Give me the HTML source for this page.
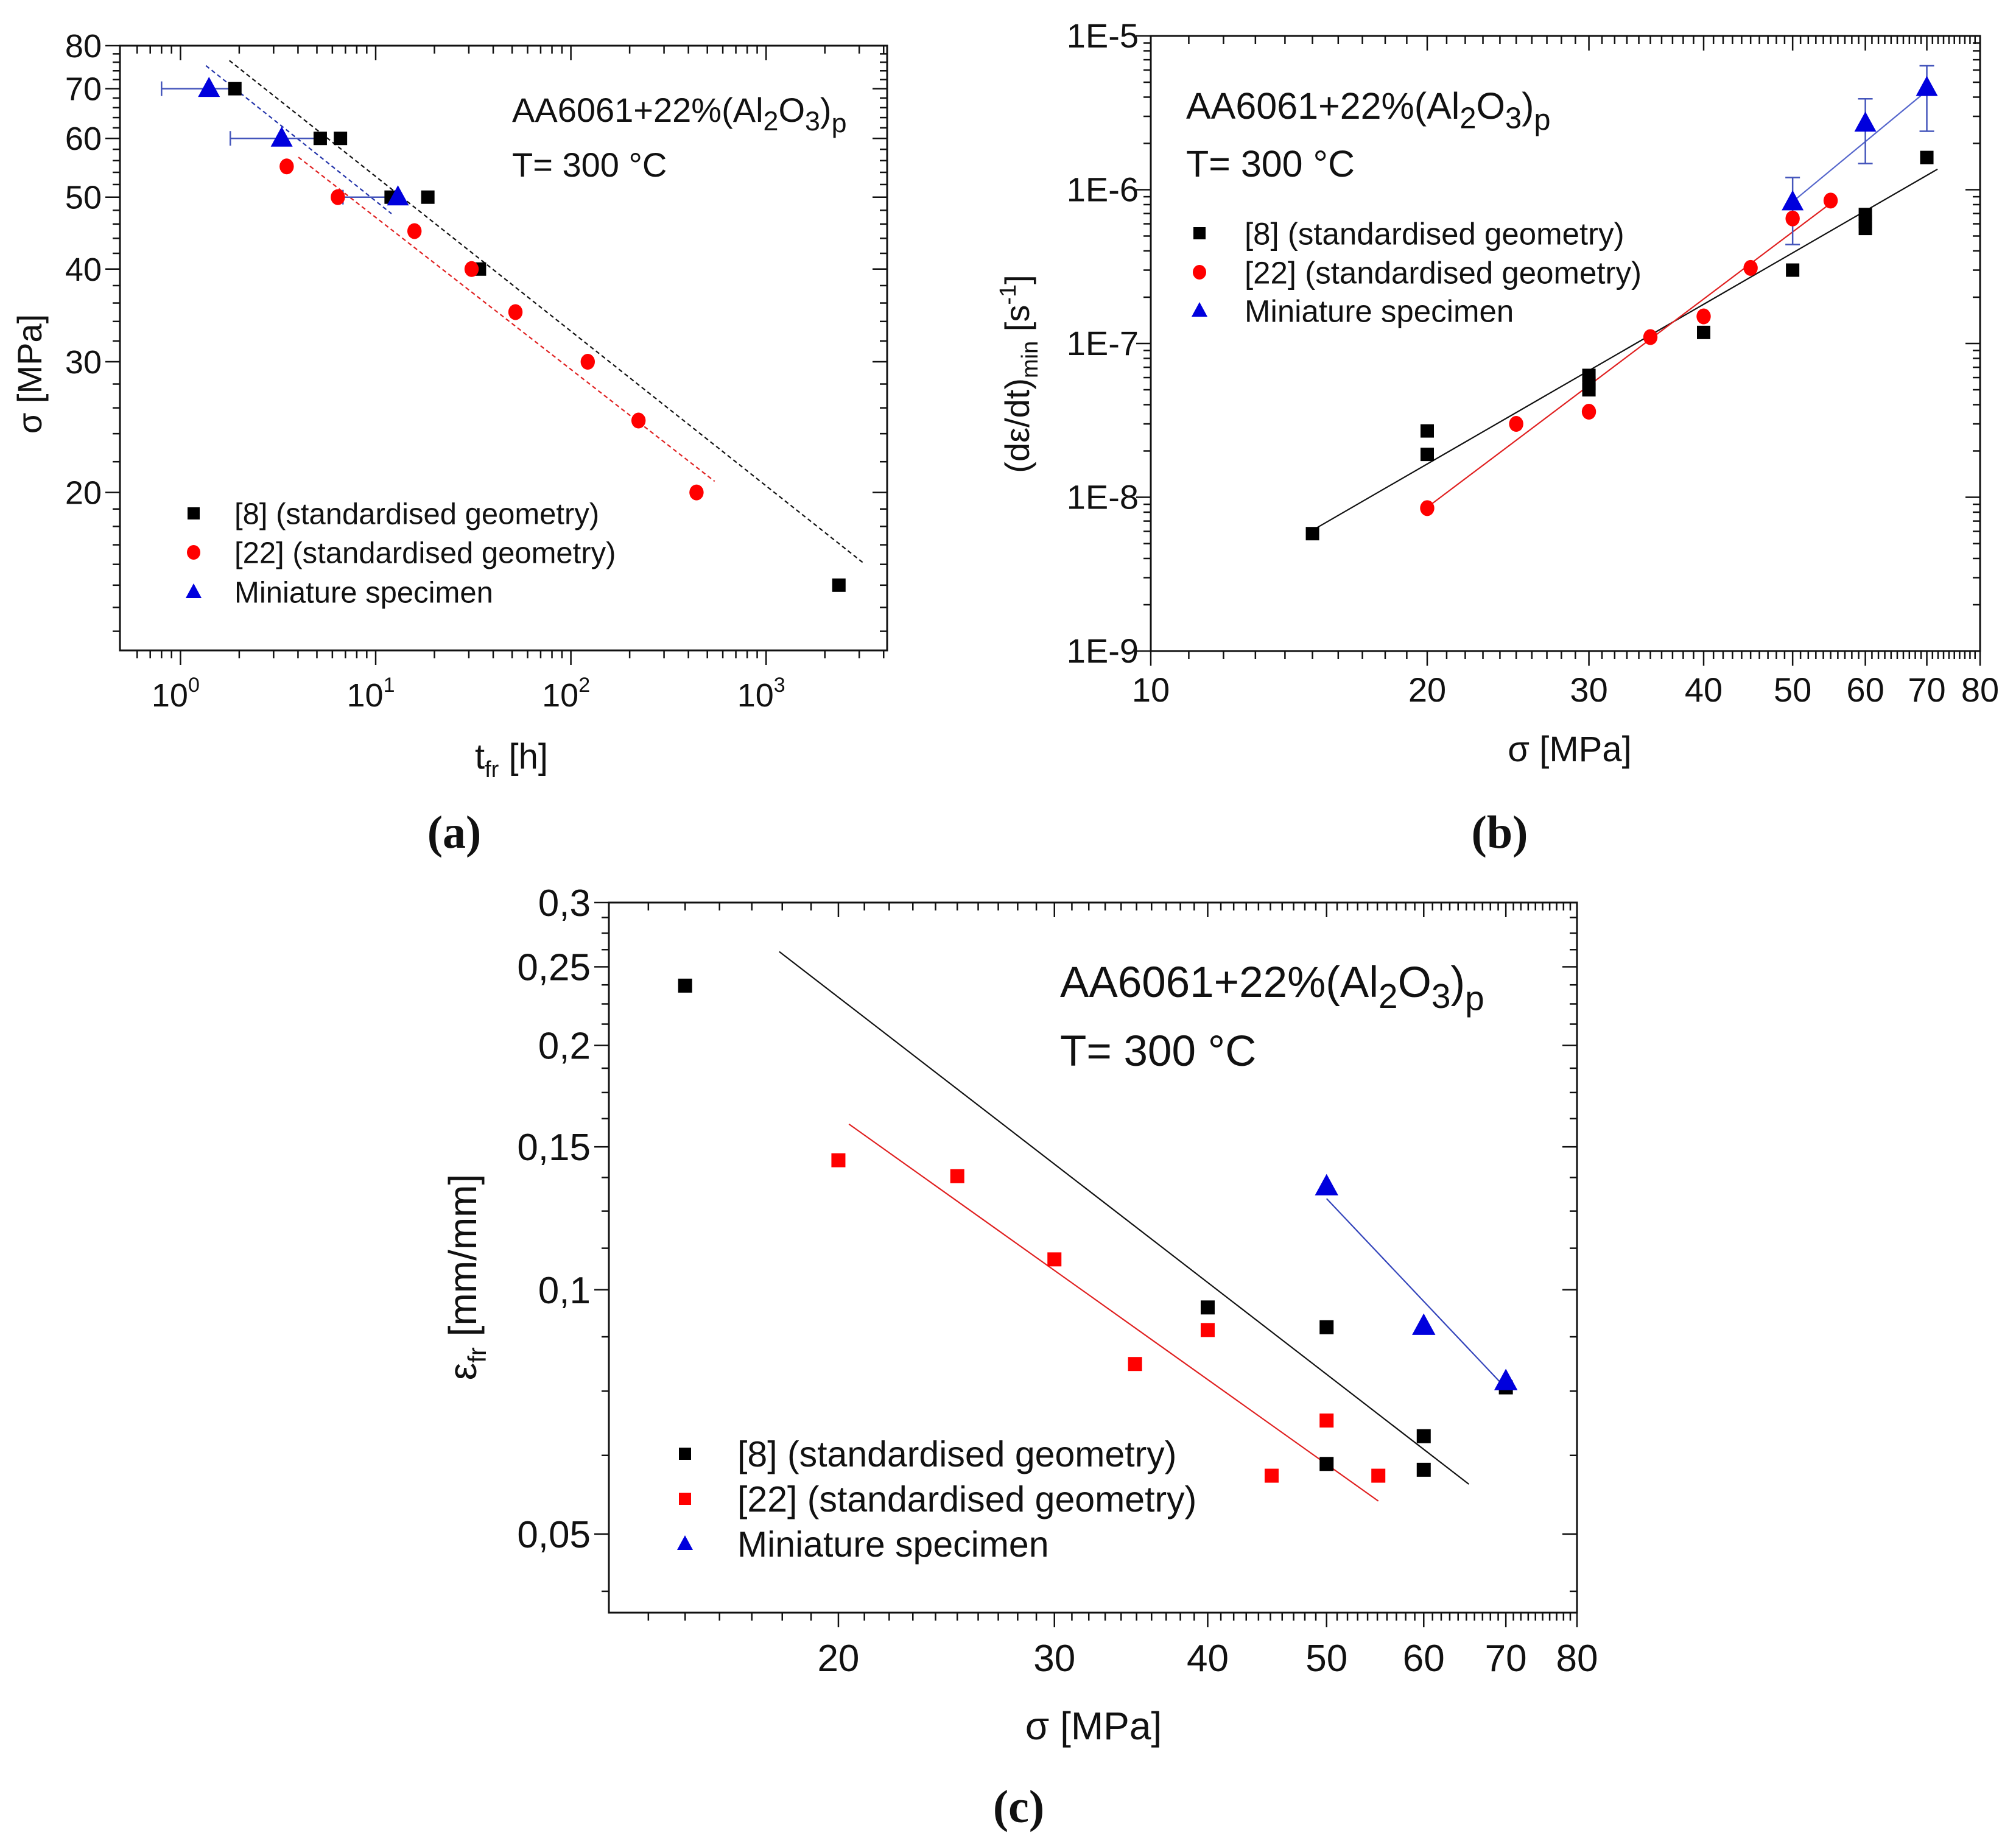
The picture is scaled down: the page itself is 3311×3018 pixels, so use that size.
<!DOCTYPE html>
<html><head><meta charset="utf-8"><style>
html,body{margin:0;padding:0;background:#fff}
svg{display:block}
text{font-family:"Liberation Sans",sans-serif;fill:#111}
.serif{font-family:"Liberation Serif",serif;font-weight:bold}
</style></head><body>
<svg id="fig" width="3311" height="3018" viewBox="0 0 3311 3018" xmlns="http://www.w3.org/2000/svg"></svg>
<script>
// ---------- Panel (a) data ----------
const aSq = [[1.9,70],[5.2,60],[6.6,60],[12,50],[18.5,50],[34,40],[2360,15.0]];
const aCirc = [[3.5,55],[6.4,50],[15.8,45],[31,40],[52,35],[122,30],[222,25],[440,20]];
const aTri = [[1.4,70],[3.3,60],[13,50]];
const aTriErr = [[0.8,1.9],[1.8,5.2],[6.8,13]];
const aFitBlack = [[1.78,76.4],[3120,16.1]];
const aFitBlue = [[1.35,75.2],[12.05,47.5]];
const aFitRed = [[4.02,56.6],[545,20.7]];
const aYTicks = [20,30,40,50,60,70,80];
const aYMinor = [12,13,14,15,16,17,18,19,22,24,26,28,32,34,36,38,42,44,46,48,52,54,56,58,62,64,66,68,72,74,76,78];
const aXExp = [0,1,2,3];
// ---------- Panel (b) data ----------
const bSq = [[15,5.8e-9],[20,2.7e-8],[20,1.9e-8],[30,6.2e-8],[30,5.5e-8],[30,5.0e-8],[40,1.18e-7],[50,3.0e-7],[60,6.9e-7],[60,6.2e-7],[60,5.6e-7],[70,1.62e-6]];
const bCirc = [[20,8.5e-9],[25,3.0e-8],[30,3.6e-8],[35,1.1e-7],[40,1.5e-7],[45,3.1e-7],[50,6.5e-7],[55,8.5e-7]];
const bTri = [[50,8.3e-7],[60,2.7e-6],[70,4.6e-6]];
const bTriErr = [[4.4e-7,1.2e-6],[1.48e-6,3.9e-6],[2.4e-6,6.4e-6]];
const bFitBlack = [[15,6.1e-9],[71.9,1.36e-6]];
const bFitRed = [[20,8.6e-9],[55.5,8.5e-7]];
const bFitBlue = [[50.3,8.6e-7],[70,4.4e-6]];
const bXTicks = [10,20,30,40,50,60,70,80];
const bYExp = [-9,-8,-7,-6,-5];
// ---------- Panel (c) data ----------
const cSq = [[15,0.237],[40,0.0951],[50,0.0899],[50,0.0610],[60,0.066],[60,0.060],[70,0.0758]];
const cRed = [[20,0.1444],[25,0.138],[30,0.109],[34.9,0.081],[40,0.0892],[45.1,0.059],[50,0.069],[55.1,0.059]];
const cTri = [[50,0.134],[60,0.0902],[70,0.0771]];
const cFitBlack = [[17.9,0.261],[65.3,0.0576]];
const cFitRed = [[20.4,0.160],[55.1,0.0549]];
const cFitBlue = [[50,0.1295],[69.9,0.0758]];
const cXTicks = [20,30,40,50,60,70,80];
const cYTicks = [0.05,0.1,0.15,0.2,0.25,0.3];
const cYLabels = ["0,05","0,1","0,15","0,2","0,25","0,3"];
const cYMinor = [0.0425,0.0625,0.075,0.0875,0.1125,0.125,0.1375,0.1625,0.175,0.1875,0.2125,0.225,0.2375,0.2625,0.275,0.2875];

const NS="http://www.w3.org/2000/svg";
const svg=document.getElementById('fig');
function mk(tag,attrs,parent){const e=document.createElementNS(NS,tag);for(const k in attrs)e.setAttribute(k,attrs[k]);(parent||svg).appendChild(e);return e;}
function logS(d0,d1,r0,r1){const l0=Math.log10(d0),l1=Math.log10(d1);return v=>r0+(Math.log10(v)-l0)/(l1-l0)*(r1-r0);}

function panel(name,L,R,T,B,xd,yd){
  const g=mk('g',{});
  
  
  const fr=mk('rect',{x:L,y:T,width:R-L,height:B-T,fill:'none',stroke:'#111','stroke-width':3},g);
  
  
  return {g,L,R,T,B,x:logS(xd[0],xd[1],L,R),y:logS(yd[0],yd[1],B,T)};
}
function xtick(p,v,len){const X=p.x(v);if(X<p.L-1||X>p.R+1)return;
  const t=mk('line',{x1:X,x2:X,y1:p.B,y2:p.B+len,stroke:'#111','stroke-width':2.5},p.g);
  
  mk('line',{x1:X,x2:X,y1:p.T,y2:p.T+len,stroke:'#111','stroke-width':2.5},p.g);}
function ytick(p,v,len){const Y=p.y(v);if(Y<p.T-1||Y>p.B+1)return;
  const t=mk('line',{x1:p.L-len,x2:p.L,y1:Y,y2:Y,stroke:'#111','stroke-width':2.5},p.g);
  
  mk('line',{x1:p.R-len,x2:p.R,y1:Y,y2:Y,stroke:'#111','stroke-width':2.5},p.g);}
function txt(p,s,x,y,size,anchor,extra){const t=mk('text',Object.assign({x:x,y:y,'font-size':size,'text-anchor':anchor||'start'},extra||{}),p.g);t.textContent=s;return t;}
function sq(p,d,color,sz,nm){const e=mk('rect',{x:p.x(d[0])-sz/2,y:p.y(d[1])-sz/2,width:sz,height:sz,fill:color},p.g);}
function circ(p,d,color,r,nm){const e=mk('ellipse',{cx:p.x(d[0]),cy:p.y(d[1]),rx:r*0.9,ry:r,fill:color},p.g);}
function tri(p,d,color,s,nm){const X=p.x(d[0]),Y=p.y(d[1]);const e=mk('polygon',{points:`${X},${Y-s*0.65} ${X-s*0.6},${Y+s*0.45} ${X+s*0.6},${Y+s*0.45}`,fill:color},p.g);}
function fit(p,f,color,dash,nm){const e=mk('line',{x1:p.x(f[0][0]),y1:p.y(f[0][1]),x2:p.x(f[1][0]),y2:p.y(f[1][1]),stroke:color,'stroke-width':2.2,'stroke-dasharray':dash||'none'},p.g);}
function legend(p,x0,tx,rows,size,items){
  items.forEach((it,i)=>{const Y=rows[i];
    if(it[0]==='sq'){const e=mk('rect',{x:x0-10,y:Y-10,width:20,height:20,fill:it[1]},p.g);}
    if(it[0]==='c'){const e=mk('ellipse',{cx:x0,cy:Y,rx:11,ry:12,fill:it[1]},p.g);}
    if(it[0]==='t'){const e=mk('polygon',{points:`${x0},${Y-14} ${x0-13},${Y+10} ${x0+13},${Y+10}`,fill:it[1]},p.g);}
    const t=txt(p,it[2],tx,Y+size*0.36,size);
  });
}
function annot(p,x,y1,y2,size){
  const t=mk('text',{x:x,y:y1,'font-size':size},p.g);
  
  t.innerHTML='AA6061+22%(Al<tspan dy="'+size*0.25+'" font-size="'+size*0.8+'">2</tspan><tspan dy="'+(-size*0.25)+'">O</tspan><tspan dy="'+size*0.25+'" font-size="'+size*0.8+'">3</tspan><tspan dy="'+(-size*0.25)+'">)</tspan><tspan dy="'+size*0.3+'" font-size="'+size*0.8+'">p</tspan>';
  const t2=txt(p,'T= 300 °C',x,y2,size);
}

// ===== Panel A =====
(function(){
const p=panel('panel-a',197,1457,75,1068,[Math.pow(10,-0.31),Math.pow(10,3.62)],[12.25,80]);
aXExp.forEach(e=>{for(let i=1;i<10;i++)xtick(p,i*Math.pow(10,e),i===1?24:13);});
[0.6,0.7,0.8,0.9,6000].forEach(v=>xtick(p,v,13));
aYTicks.forEach(v=>{ytick(p,v,24);const t=txt(p,String(v),p.L-30,p.y(v)+19,54,'end');});
aYMinor.forEach(v=>ytick(p,v,12));
aXExp.forEach(e=>{const t=mk('text',{x:p.x(Math.pow(10,e))-8,y:1160,'font-size':54,'text-anchor':'middle'},p.g);t.innerHTML='10<tspan dy="-24" font-size="34">'+e+'</tspan>';});
const xl=mk('text',{x:780,y:1262,'font-size':58},p.g);xl.innerHTML='t<tspan dy="14" font-size="38">fr</tspan><tspan dy="-14"> [h]</tspan>';
const yl=txt(p,'σ [MPa]',0,0,56,'middle',{transform:'translate(68,614) rotate(-90)'});
fit(p,aFitBlack,'#111','7,5','fit-line-8');
fit(p,aFitBlue,'#2233aa','7,5','fit-line-miniature');
fit(p,aFitRed,'#e02020','7,5','fit-line-22');
aTriErr.forEach((e,i)=>{const Y=p.y(aTri[i][1]);const l=mk('line',{x1:p.x(e[0]),x2:p.x(e[1]),y1:Y,y2:Y,stroke:'#4455bb','stroke-width':2.5},p.g);mk('line',{x1:p.x(e[0]),x2:p.x(e[0]),y1:Y-12,y2:Y+12,stroke:'#4455bb','stroke-width':2.5},p.g);});
aSq.forEach(d=>sq(p,d,'#000',22,'point-8'));
aCirc.forEach(d=>circ(p,d,'#ff0000',13,'point-22'));
aTri.forEach(d=>tri(p,d,'#0000dd',30,'point-miniature'));
annot(p,841,200,290,56);
legend(p,318,385,[843,907,972],49,[['sq','#000','[8] (standardised geometry)'],['c','#ff0000','[22] (standardised geometry)'],['t','#0000dd','Miniature specimen']]);
const lab=txt(p,'(a)',746,1392,76,'middle');lab.setAttribute('class','serif');
})();

// ===== Panel B =====
(function(){
const p=panel('panel-b',1890,3252,59,1069,[10,80],[1e-9,1e-5]);
for(let v=11;v<80;v++){if(!bXTicks.includes(v))xtick(p,v,13);}
bXTicks.forEach(v=>{xtick(p,v,24);const t=txt(p,String(v),p.x(v),1152,56,'middle');});
bYExp.forEach(e=>{ytick(p,Math.pow(10,e),24);if(e<-5)for(let i=2;i<10;i++)ytick(p,i*Math.pow(10,e),12);
  const t=txt(p,'1E'+e,p.L-20,p.y(Math.pow(10,e))+19,56,'end');});
const xl=txt(p,'σ [MPa]',2578,1250,58,'middle');
const yl=mk('text',{transform:'translate(1690,614) rotate(-90)','font-size':56,'text-anchor':'middle'},p.g);yl.innerHTML='(dε/dt)<tspan dy="14" font-size="38">min</tspan><tspan dy="-14"> [s</tspan><tspan dy="-22" font-size="38">-1</tspan><tspan dy="22">]</tspan>';
fit(p,bFitBlack,'#111',null,'fit-line-8');
fit(p,bFitRed,'#e02020',null,'fit-line-22');
fit(p,bFitBlue,'#5566cc',null,'fit-line-miniature');
bTriErr.forEach((e,i)=>{const X=p.x(bTri[i][0]);const l=mk('line',{x1:X,x2:X,y1:p.y(e[0]),y2:p.y(e[1]),stroke:'#4455bb','stroke-width':2.5},p.g);
  mk('line',{x1:X-12,x2:X+12,y1:p.y(e[0]),y2:p.y(e[0]),stroke:'#4455bb','stroke-width':2.5},p.g);mk('line',{x1:X-12,x2:X+12,y1:p.y(e[1]),y2:p.y(e[1]),stroke:'#4455bb','stroke-width':2.5},p.g);});
bSq.forEach(d=>sq(p,d,'#000',22,'point-8'));
bCirc.forEach(d=>circ(p,d,'#ff0000',13,'point-22'));
bTri.forEach(d=>tri(p,d,'#0000dd',30,'point-miniature'));
annot(p,1948,195,290,61);
legend(p,1970,2044,[383,447,510],51,[['sq','#000','[8] (standardised geometry)'],['c','#ff0000','[22] (standardised geometry)'],['t','#0000dd','Miniature specimen']]);
const lab=txt(p,'(b)',2463,1392,76,'middle');lab.setAttribute('class','serif');
})();

// ===== Panel C =====
(function(){
const p=panel('panel-c',1000,2590,1482,2648,[13.0,80],[0.04,0.3]);
for(let v=14;v<80;v++){if(!cXTicks.includes(v))xtick(p,v,13);}
cXTicks.forEach(v=>{xtick(p,v,24);const t=txt(p,String(v),p.x(v),2744,62,'middle');});
cYTicks.forEach((v,i)=>{ytick(p,v,24);const t=txt(p,cYLabels[i],p.L-30,p.y(v)+22,62,'end');});
cYMinor.forEach(v=>ytick(p,v,12));
const xl=txt(p,'σ [MPa]',1796,2856,64,'middle');
const yl=mk('text',{transform:'translate(782,2097) rotate(-90)','font-size':64,'text-anchor':'middle'},p.g);yl.innerHTML='ε<tspan dy="16" font-size="42">fr</tspan><tspan dy="-16"> [mm/mm]</tspan>';
fit(p,cFitBlack,'#111',null,'fit-line-8');
fit(p,cFitRed,'#e02020',null,'fit-line-22');
fit(p,cFitBlue,'#3344bb',null,'fit-line-miniature');
cSq.forEach(d=>sq(p,d,'#000',23,'point-8'));
cRed.forEach(d=>sq(p,d,'#ff0000',23,'point-22'));
cTri.forEach(d=>tri(p,d,'#0000dd',32,'point-miniature'));
annot(p,1741,1637,1750,71);
legend(p,1125,1211,[2387,2461,2535],59,[['sq','#000','[8] (standardised geometry)'],['sq','#ff0000','[22] (standardised geometry)'],['t','#0000dd','Miniature specimen']]);
const lab=txt(p,'(c)',1673,2992,76,'middle');lab.setAttribute('class','serif');
})();
</script>
</body></html>
